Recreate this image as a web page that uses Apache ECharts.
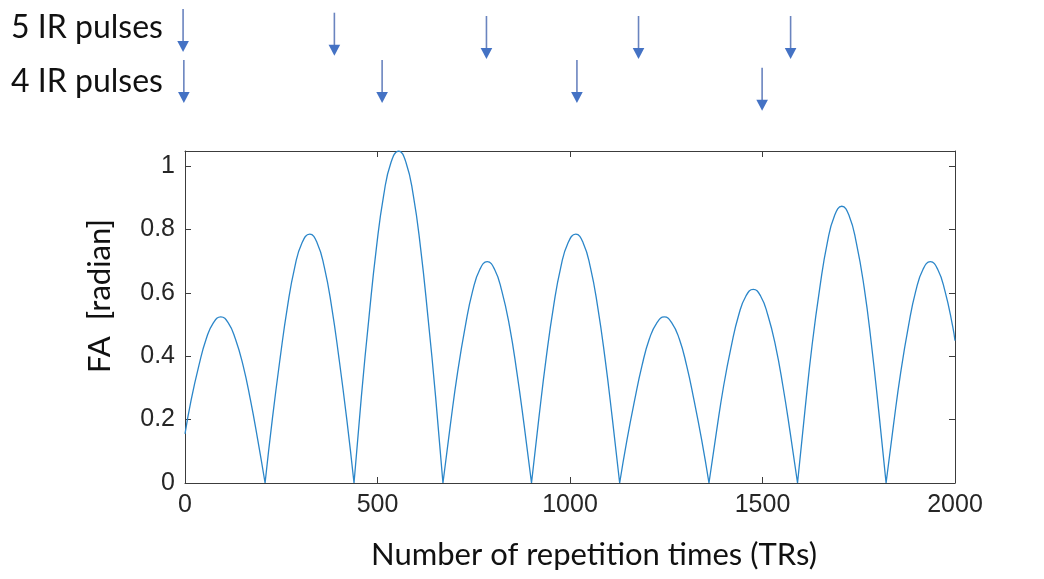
<!DOCTYPE html>
<html>
<head>
<meta charset="utf-8">
<script src="https://cdn.jsdelivr.net/npm/echarts@6/dist/echarts.min.js"></script>
<style>html,body{margin:0;padding:0;background:#fff;}#main{width:1044px;height:579px;}</style>
</head>
<body>
<div id="main"></div>
<script>
// ---- data ----
const trValues = [0,16,36,55,74,93,112,131,151,170,189,208,
227,247,266,285,304,324,343,362,381,400,420,439,
458,478,497,516,535,555,574,593,612,631,651,670,
689,708,728,747,766,785,804,823,843,862,881,900,
919,938,957,976,995,1015,1034,1053,1072,1091,1110,1129,
1148,1168,1187,1206,1226,1245,1264,1284,1303,1322,1342,1361,
1380,1399,1419,1438,1457,1476,1495,1514,1534,1553,1572,1591,
1610,1629,1649,1668,1687,1706,1725,1744,1764,1783,1802,1821,
1840,1859,1879,1898,1917,1936,1955,1974,1994,2000];
const faValues = [0.155,0.262,0.370,0.454,0.506,0.524,0.506,0.454,0.370,0.262,0.136,0,
0.203,0.393,0.555,0.680,0.758,0.785,0.758,0.680,0.555,0.393,0.203,0,
0.271,0.524,0.740,0.907,1.011,1.047,1.011,0.907,0.740,0.524,0.271,0,
0.181,0.349,0.494,0.605,0.674,0.698,0.674,0.605,0.494,0.349,0.181,0,
0.203,0.393,0.555,0.680,0.758,0.785,0.758,0.680,0.555,0.393,0.203,0,
0.136,0.262,0.370,0.454,0.506,0.524,0.506,0.454,0.370,0.262,0.136,0,
0.158,0.306,0.432,0.529,0.590,0.611,0.590,0.529,0.432,0.306,0.158,0,
0.226,0.437,0.617,0.756,0.843,0.873,0.843,0.756,0.617,0.437,0.226,0,
0.181,0.349,0.494,0.605,0.674,0.698,0.674,0.605,0.494,0.449];
const xTicks = [0, 500, 1000, 1500, 2000];
const yTicks = [0, 0.2, 0.4, 0.6, 0.8, 1];
// IR pulse annotations: pulse time (TR) and arrow top level (annotation units)
const ir5Times = [-5, 388, 783, 1178, 1573];
const ir5Top = [9, 12.7, 16, 16, 16];
const ir4Times = [-3, 512, 1018, 1499];
const ir4Top = [60, 60, 60, 67.7];
const rowLabels = ['5 IR pulses', '4 IR pulses'];
const xTitle = 'Number of repetition times (TRs)';
const yTitle = 'FA  [radian]';

// ---- styles ----
const axisColor = '#3c3c3c';
const labelColor = '#262626';
const lineColor = '#2b86c9';
const arrowLen = 43;

const chart = echarts.init(document.getElementById('main'), null, {renderer: 'canvas'});

// split the curve into arches at its zeros so smoothing keeps the sharp cusps
const curveData = [];
trValues.forEach((t, i) => {
  curveData.push([t, faValues[i]]);
  if (faValues[i] === 0 && i < trValues.length - 1) {
    curveData.push(null);
    curveData.push([t, faValues[i]]);
  }
});

function arrowItem(params, api) {
  const top = api.coord([api.value(0), api.value(1)]);
  const tip = api.coord([api.value(0), api.value(1) + arrowLen]);
  const hw = 5.8, hh = 11;
  return {
    type: 'group',
    children: [
      {type: 'line', shape: {x1: top[0], y1: top[1], x2: tip[0], y2: tip[1] - hh + 1},
       style: {stroke: '#6a84bf', lineWidth: 1.6}},
      {type: 'polygon', shape: {points: [[tip[0] - hw, tip[1] - hh], [tip[0] + hw, tip[1] - hh], [tip[0], tip[1]]]},
       style: {fill: '#4472C4'}}
    ]
  };
}

const yFmt = v => (Math.abs(v * 5 - Math.round(v * 5)) < 1e-6 && yTicks.indexOf(Math.round(v * 10) / 10) >= 0) ? String(Math.round(v * 10) / 10) : '';
const xFmt = v => String(v);

const mainAxisCommon = {
  axisLine: {show: true, onZero: false, lineStyle: {color: axisColor, width: 1}},
  axisTick: {show: true, inside: true, length: 6, lineStyle: {color: axisColor}},
  splitLine: {show: false}
};

const option = {
  animation: false,
  backgroundColor: '#fff',
  grid: [
    {left: 185, right: 89, top: 151, bottom: 96},
    {left: 185, right: 89, top: 0, height: 120}
  ],
  xAxis: [
    Object.assign({gridIndex: 0, type: 'value', min: xTicks[0], max: xTicks[xTicks.length - 1], interval: xTicks[1] - xTicks[0], position: 'bottom',
      axisLabel: {fontSize: 25, color: labelColor, fontFamily: 'Liberation Sans', margin: 10, formatter: xFmt}}, mainAxisCommon),
    Object.assign({gridIndex: 0, type: 'value', min: xTicks[0], max: xTicks[xTicks.length - 1], interval: xTicks[1] - xTicks[0], position: 'top',
      axisLabel: {show: false}}, mainAxisCommon),
    {gridIndex: 1, type: 'value', min: 0, max: 2000, show: false}
  ],
  yAxis: [
    Object.assign({gridIndex: 0, type: 'value', min: 0, max: 1.0472, interval: 0.2, position: 'left',
      axisLabel: {fontSize: 25, color: labelColor, fontFamily: 'Liberation Sans', margin: 10, formatter: yFmt}}, mainAxisCommon),
    Object.assign({gridIndex: 0, type: 'value', min: 0, max: 1.0472, interval: 0.2, position: 'right',
      axisLabel: {show: false}}, mainAxisCommon),
    {gridIndex: 1, type: 'value', min: 0, max: 120, inverse: true, show: false}
  ],
  series: [
    {
      type: 'line', xAxisIndex: 0, yAxisIndex: 0,
      data: curveData, connectNulls: false, smooth: 0.5,
      showSymbol: false, symbol: 'none', clip: false,
      lineStyle: {color: lineColor, width: 1.3},
      silent: true
    },
    {
      type: 'custom', xAxisIndex: 2, yAxisIndex: 2, coordinateSystem: 'cartesian2d',
      data: ir5Times.map((t, i) => [t, ir5Top[i]]), renderItem: arrowItem, clip: false, silent: true
    },
    {
      type: 'custom', xAxisIndex: 2, yAxisIndex: 2, coordinateSystem: 'cartesian2d',
      data: ir4Times.map((t, i) => [t, ir4Top[i]]), renderItem: arrowItem, clip: false, silent: true
    }
  ],
  graphic: [
    {type: 'text', x: 11, y: 28, style: {text: rowLabels[0], fontSize: 32, fontFamily: 'Lato', fill: '#111', align: 'left', verticalAlign: 'middle'}},
    {type: 'text', x: 11, y: 82, style: {text: rowLabels[1], fontSize: 32, fontFamily: 'Lato', fill: '#111', align: 'left', verticalAlign: 'middle'}},
    {type: 'text', x: 594, y: 555, style: {text: xTitle, fontSize: 31, fontFamily: 'Lato', fill: '#111', align: 'center', verticalAlign: 'middle'}},
    {type: 'text', x: 100, y: 296, rotation: Math.PI / 2, style: {text: yTitle, fontSize: 31, fontFamily: 'Lato', fill: '#111', align: 'center', verticalAlign: 'middle'}}
  ]
};
chart.setOption(option);
</script>
</body>
</html>
